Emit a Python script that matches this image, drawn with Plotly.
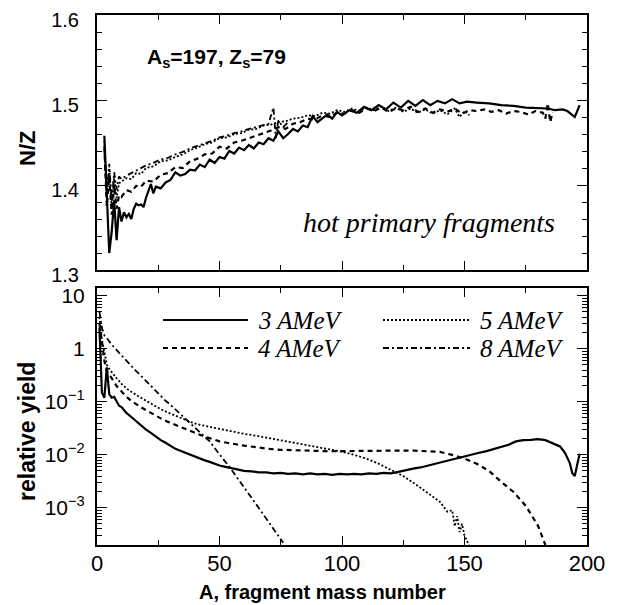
import plotly.graph_objects as go

# ---------------- data: top panel (N/Z of hot primary fragments) ----------------
A_nz_3 = [3, 4, 5, 6, 7, 8, 9, 10, 11, 12, 13, 14, 15, 16, 17, 18, 19, 20, 21, 22, 23, 24, 26, 28, 30,
          32, 34, 36, 38, 40, 42, 44, 46, 48, 50, 52, 54, 56, 58, 60, 62, 64, 66, 68, 70, 72, 74, 76, 78,
          80, 82, 84, 86, 88, 90, 92, 94, 96, 98, 100, 103, 106, 109, 112, 115, 118, 121, 124, 127, 130,
          133, 136, 139, 142, 145, 148, 151, 155, 160, 165, 170, 175, 180, 184, 187, 190, 192, 194, 195, 196, 197]
nz_3 = [1.458, 1.395, 1.320, 1.345, 1.382, 1.335, 1.374, 1.357, 1.368, 1.362, 1.366, 1.360, 1.372, 1.378,
        1.376, 1.377, 1.374, 1.385, 1.392, 1.401, 1.390, 1.398, 1.396, 1.403, 1.406, 1.415, 1.411, 1.413,
        1.418, 1.417, 1.424, 1.421, 1.430, 1.426, 1.433, 1.431, 1.440, 1.437, 1.444, 1.441, 1.447, 1.443,
        1.450, 1.448, 1.455, 1.452, 1.463, 1.455, 1.460, 1.466, 1.463, 1.470, 1.468, 1.481, 1.474, 1.479,
        1.483, 1.478, 1.486, 1.482, 1.488, 1.485, 1.492, 1.488, 1.494, 1.489, 1.497, 1.491, 1.499, 1.493,
        1.500, 1.494, 1.499, 1.496, 1.501, 1.496, 1.498, 1.497, 1.496, 1.494, 1.493, 1.491, 1.490, 1.490,
        1.488, 1.489, 1.487, 1.482, 1.480, 1.487, 1.494]

A_nz_4 = [3, 4, 5, 6, 7, 8, 9, 10, 12, 14, 16, 18, 20, 23, 26, 29, 32, 35, 38, 41, 44, 47, 50, 53, 56, 59,
          62, 65, 68, 71, 74, 77, 80, 83, 86, 89, 92, 95, 98, 101, 104, 107, 110, 113, 116, 119, 122, 125,
          128, 131, 134, 137, 140, 143, 146, 149, 152, 155, 158, 161, 164, 167, 170, 173, 176, 179, 182,
          183, 184, 185, 186]
nz_4 = [1.445, 1.375, 1.410, 1.365, 1.400, 1.372, 1.388, 1.386, 1.394, 1.392, 1.399, 1.398, 1.405, 1.404,
        1.412, 1.414, 1.421, 1.420, 1.428, 1.431, 1.436, 1.437, 1.445, 1.443, 1.450, 1.452, 1.455, 1.458,
        1.461, 1.464, 1.468, 1.466, 1.472, 1.474, 1.478, 1.477, 1.482, 1.480, 1.485, 1.484, 1.488, 1.485,
        1.490, 1.487, 1.491, 1.486, 1.490, 1.488, 1.492, 1.486, 1.490, 1.485, 1.489, 1.486, 1.490, 1.484,
        1.488, 1.487, 1.489, 1.486, 1.488, 1.484, 1.487, 1.486, 1.483, 1.487, 1.485, 1.478, 1.496, 1.474, 1.486]

A_nz_5 = [3, 4, 5, 6, 7, 8, 9, 10, 12, 14, 16, 18, 20, 23, 26, 29, 32, 35, 38, 41, 44, 47, 50, 53, 56, 59,
          62, 65, 68, 71, 74, 77, 80, 83, 86, 89, 92, 95, 98, 101, 104, 107, 110, 113, 116, 119, 122, 125,
          128, 131, 134, 137, 140, 143, 146, 148, 150, 152]
nz_5 = [1.452, 1.385, 1.420, 1.372, 1.410, 1.385, 1.402, 1.404, 1.408, 1.407, 1.414, 1.413, 1.420, 1.422,
        1.428, 1.429, 1.433, 1.436, 1.441, 1.444, 1.448, 1.450, 1.455, 1.456, 1.460, 1.461, 1.465, 1.466,
        1.470, 1.471, 1.474, 1.475, 1.478, 1.479, 1.482, 1.481, 1.485, 1.484, 1.488, 1.486, 1.490, 1.487,
        1.491, 1.488, 1.492, 1.487, 1.491, 1.486, 1.490, 1.485, 1.489, 1.484, 1.488, 1.483, 1.490, 1.480,
        1.487, 1.482]

A_nz_8 = [3, 4, 5, 6, 7, 8, 9, 10, 12, 14, 16, 18, 20, 23, 26, 29, 32, 35, 38, 41, 44, 47, 50, 53, 56, 59,
          62, 65, 68, 70, 72, 73, 74, 76, 78]
nz_8 = [1.440, 1.390, 1.425, 1.380, 1.415, 1.395, 1.410, 1.407, 1.411, 1.414, 1.417, 1.420, 1.423, 1.426,
        1.430, 1.432, 1.436, 1.439, 1.443, 1.446, 1.449, 1.452, 1.456, 1.458, 1.461, 1.463, 1.466, 1.468,
        1.470, 1.472, 1.491, 1.455, 1.476, 1.468, 1.474]

# ---------------- data: bottom panel (relative yield) ----------------
A_y_3 = [1, 2, 3, 4, 5, 6, 7, 8, 9, 10, 12, 14, 16, 18, 20, 22, 24, 26, 28, 30, 32, 34, 36, 38, 40, 42,
         44, 46, 48, 50, 52, 54, 56, 58, 60, 63, 66, 69, 72, 75, 78, 81, 84, 87, 90, 93, 96, 99, 102, 105,
         108, 111, 114, 117, 120, 123, 126, 129, 132, 135, 138, 141, 144, 147, 150, 153, 156, 159, 162,
         165, 168, 171, 174, 177, 180, 183, 186, 189, 191, 193, 194, 195, 196, 197]
yld_3 = [2.5, 0.15, 0.12, 0.45, 0.14, 0.12, 0.125, 0.10, 0.085, 0.080, 0.062, 0.052, 0.043, 0.036, 0.030,
         0.026, 0.022, 0.019, 0.017, 0.015, 0.013, 0.012, 0.011, 0.0102, 0.0092, 0.0085, 0.0079, 0.0074,
         0.0068, 0.0063, 0.0060, 0.0057, 0.0054, 0.0052, 0.0050, 0.0049, 0.0047, 0.0047, 0.0045, 0.0046,
         0.0044, 0.0045, 0.0043, 0.0045, 0.0043, 0.0044, 0.0042, 0.0044, 0.0043, 0.0044, 0.0043, 0.0045,
         0.0044, 0.0046, 0.0045, 0.0048, 0.0052, 0.0055, 0.0058, 0.0063, 0.0068, 0.0073, 0.0080, 0.0088,
         0.0095, 0.0102, 0.0110, 0.0118, 0.0128, 0.0140, 0.0155, 0.0180, 0.0190, 0.0193, 0.0198, 0.0190,
         0.0165, 0.0145, 0.0110, 0.0070, 0.0045, 0.0040, 0.0065, 0.0105]

A_y_4 = [1, 2, 3, 4, 5, 6, 8, 10, 12, 14, 16, 18, 20, 23, 26, 29, 32, 35, 38, 41, 44, 47, 50, 53, 56, 60,
         65, 70, 75, 80, 85, 90, 95, 100, 105, 110, 115, 120, 125, 130, 135, 140, 145, 150, 155, 160, 165,
         170, 175, 180, 183]
yld_4 = [3.0, 1.2, 0.6, 0.38, 0.33, 0.28, 0.20, 0.155, 0.125, 0.105, 0.090, 0.079, 0.070, 0.058, 0.049,
         0.042, 0.037, 0.032, 0.028, 0.025, 0.022, 0.020, 0.018, 0.017, 0.016, 0.0150, 0.0140, 0.0130,
         0.0125, 0.0122, 0.0120, 0.0118, 0.0117, 0.0118, 0.0119, 0.0120, 0.0121, 0.0122, 0.0121, 0.0120,
         0.0118, 0.0114, 0.0100, 0.0085, 0.0068, 0.0050, 0.0031, 0.0020, 0.0011, 0.00046, 0.00020]

A_y_5 = [1, 2, 3, 4, 5, 6, 8, 10, 12, 14, 16, 18, 20, 23, 26, 29, 32, 35, 38, 41, 44, 47, 50, 53, 56, 60,
         65, 70, 75, 80, 85, 90, 95, 100, 105, 110, 115, 120, 125, 130, 135, 140, 143, 145, 146, 147, 148,
         149, 150, 152]
yld_5 = [4.0, 1.5, 0.9, 0.50, 0.42, 0.36, 0.28, 0.22, 0.18, 0.155, 0.135, 0.118, 0.105, 0.088, 0.073,
         0.063, 0.055, 0.048, 0.042, 0.038, 0.035, 0.033, 0.031, 0.029, 0.027, 0.025, 0.023, 0.021, 0.019,
         0.017, 0.0155, 0.0140, 0.0127, 0.0115, 0.0100, 0.0085, 0.0068, 0.0053, 0.0040, 0.0028, 0.0019,
         0.0013, 0.00085, 0.0009, 0.00045, 0.0007, 0.00035, 0.0005, 0.0003, 0.00019]

A_y_8 = [1, 2, 3, 4, 6, 8, 10, 12, 14, 16, 18, 20, 22, 24, 26, 28, 30, 32, 34, 36, 38, 40, 42, 44, 46, 48,
         50, 52, 54, 56, 60, 64, 68, 72, 76]
yld_8 = [5.0, 2.5, 1.8, 1.6, 1.2, 0.95, 0.75, 0.60, 0.48, 0.38, 0.31, 0.25, 0.20, 0.16, 0.13, 0.105,
         0.088, 0.072, 0.058, 0.048, 0.040, 0.033, 0.027, 0.022, 0.018, 0.0135, 0.0100, 0.0078, 0.0060,
         0.0045, 0.0025, 0.00135, 0.00074, 0.00041, 0.00022]

series_labels = ["3 AMeV", "4 AMeV", "5 AMeV", "8 AMeV"]
x_tickvals = [0, 50, 100, 150, 200]
nz_tickvals = [1.3, 1.4, 1.5, 1.6]
yld_tickvals = [10, 1, 0.1, 0.01, 0.001]
yld_ticktext = ["10", "1", "10<sup>\u22121</sup>", "10<sup>\u22122</sup>", "10<sup>\u22123</sup>"]

# ---------------- styles / geometry ----------------
W, H = 621, 605
OFF = 8   # the page body margin shifts the figure by this many pixels

styles = [dict(color="black", width=2.2, dash="solid"),
          dict(color="black", width=2.2, dash="5px,4px"),
          dict(color="black", width=1.8, dash="2px,2px"),
          dict(color="black", width=1.8, dash="6px,3px,2px,3px")]

def px(x):
    return (x - OFF) / W

def py(y):
    return 1 - (y - OFF) / H

SANS = "Liberation Sans"
SERIF = "Liberation Serif"

fig = go.Figure()
top = [(A_nz_3, nz_3), (A_nz_4, nz_4), (A_nz_5, nz_5), (A_nz_8, nz_8)]
bot = [(A_y_3, yld_3), (A_y_4, yld_4), (A_y_5, yld_5), (A_y_8, yld_8)]
for (xa, ya), st, name in zip(top, styles, series_labels):
    fig.add_trace(go.Scatter(x=xa, y=ya, mode="lines", line=st, name=name,
                             xaxis="x", yaxis="y", showlegend=False))
for (xa, ya), st, name in zip(bot, styles, series_labels):
    fig.add_trace(go.Scatter(x=xa, y=ya, mode="lines", line=st, name=name,
                             xaxis="x2", yaxis="y2", showlegend=False))

xdom = [px(97), px(587)]
common_x = dict(domain=xdom, range=[0, 200], showline=True, linecolor="black", linewidth=2,
                mirror="ticks", ticks="inside", tickvals=x_tickvals, ticklen=9, tickwidth=1.2,
                tickcolor="black", showgrid=False, zeroline=False, automargin=False,
                minor=dict(dtick=25, tick0=0, ticks="inside", ticklen=5, tickwidth=1.2,
                           tickcolor="black", showgrid=False))

fig.update_layout(
    template="none",
    width=W, height=H, margin=dict(l=0, r=0, t=0, b=0, autoexpand=False),
    paper_bgcolor="white", plot_bgcolor="white", showlegend=False,
    font=dict(family=SANS, color="black"),
    xaxis=dict(**common_x, anchor="y", showticklabels=False),
    yaxis=dict(domain=[py(270), py(15)], range=[1.3, 1.6], anchor="x", showline=True,
               linecolor="black", linewidth=2, mirror="ticks", ticks="inside", tickvals=nz_tickvals,
               tickformat=".1f", ticklen=10, tickwidth=1.2, tickcolor="black", showgrid=False,
               zeroline=False, automargin=False, tickfont=dict(size=20, family=SANS),
               ticklabelstandoff=12, ticklabelshift=5, ticklabeloverflow="allow",
               minor=dict(dtick=0.02, tick0=1.3, ticks="inside", ticklen=5, tickwidth=1.2,
                          tickcolor="black", showgrid=False)),
    xaxis2=dict(**common_x, anchor="y2", showticklabels=True,
                tickfont=dict(size=22, family=SANS), ticklabelstandoff=-2,
                ticklabeloverflow="allow"),
    yaxis2=dict(domain=[py(545), py(288)], type="log", range=[-3.70, 1.15], anchor="x2",
                showline=True, linecolor="black", linewidth=2, mirror="ticks", ticks="inside",
                tickvals=yld_tickvals, ticktext=yld_ticktext, ticklen=10, tickwidth=1.2,
                tickcolor="black", showgrid=False, zeroline=False, automargin=False,
                tickfont=dict(size=21, family=SANS), ticklabelstandoff=6,
                minor=dict(dtick="D1", ticks="inside", ticklen=5, tickwidth=1, tickcolor="black",
                           showgrid=False)),
)

def label(text, x, y, size, family, angle=0, xanchor="center"):
    fig.add_annotation(text=text, x=px(x), y=py(y), xref="paper", yref="paper",
                       xanchor=xanchor, yanchor="middle", textangle=angle, showarrow=False,
                       font=dict(size=size, family=family, color="black"))

# axis titles and in-plot labels
label("<b>A, fragment mass number</b>", 322, 592, 20, SANS)
label("<b>N/Z</b>", 27, 149, 22, SANS, angle=-90)
label("<b>relative yield</b>", 27, 432, 23, SANS, angle=-90)
label("<b>A<sub>s</sub>=197, Z<sub>s</sub>=79</b>", 145, 58, 21, SANS, xanchor="left")
label("<i>hot primary fragments</i>", 557, 222, 28, SERIF, xanchor="right")

# legend drawn as line samples + labels
leg_pos = [(163, 248, 320), (163, 248, 348), (383, 470, 320), (383, 470, 348)]
for (x0, x1, yy), st, name in zip(leg_pos, styles, series_labels):
    fig.add_shape(type="line", xref="paper", yref="paper", x0=px(x0), x1=px(x1), y0=py(yy), y1=py(yy),
                  line=st)
    label("<i>" + name + "</i>", x1 + 8, yy, 25, SERIF, xanchor="left")

fig.write_html("out.html")
